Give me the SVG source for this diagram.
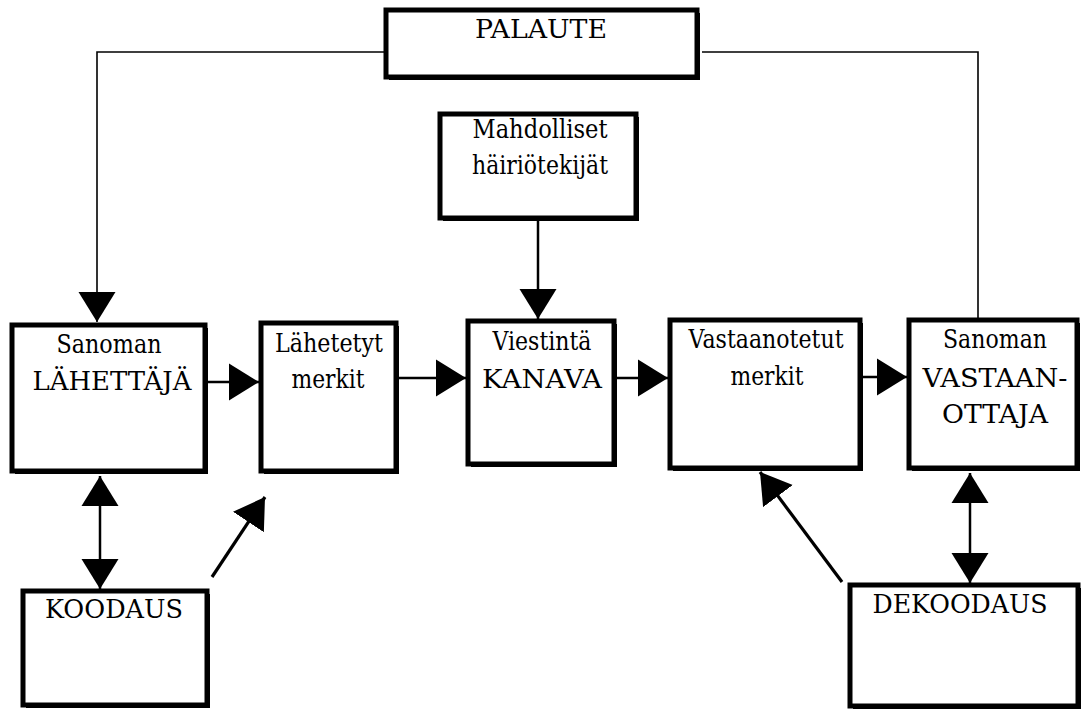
<svg xmlns="http://www.w3.org/2000/svg" width="1087" height="713" viewBox="0 0 1087 713">
<style>
.box{fill:#fff;stroke:#000;stroke-width:5}
.sh{fill:#000}
.t{font-family:"DejaVu Serif",serif;font-size:26px;fill:#000;text-anchor:middle}
.c{fill:none;stroke:#000;stroke-width:2.5}
.f{fill:none;stroke:#000;stroke-width:1.6}
</style>
<defs>
<marker id="ah" markerUnits="userSpaceOnUse" markerWidth="31" markerHeight="38" viewBox="0 0 31 38" refX="30" refY="19" orient="auto-start-reverse">
<path d="M0,0.5 L30,19 L0,37.5 z" fill="#000"/>
</marker>
</defs>
<g id="connectors">
<polyline class="f" points="384,52 97,52 97,322" marker-end="url(#ah)"/>
<polyline class="f" points="702,52 978,52 978,318"/>
<line class="c" x1="538" y1="221" x2="538" y2="319" marker-end="url(#ah)"/>
<line class="c" x1="208" y1="382" x2="259" y2="382" marker-end="url(#ah)"/>
<line class="c" x1="399" y1="378" x2="466" y2="378" marker-end="url(#ah)"/>
<line class="c" x1="617" y1="378" x2="668" y2="378" marker-end="url(#ah)"/>
<line class="c" x1="863" y1="377" x2="907" y2="377" marker-end="url(#ah)"/>
<line class="c" x1="100" y1="476" x2="100" y2="589" marker-start="url(#ah)" marker-end="url(#ah)"/>
<line class="c" x1="970" y1="473" x2="970" y2="583" marker-start="url(#ah)" marker-end="url(#ah)"/>
<line class="c" style="stroke-width:3.2" x1="212" y1="577" x2="265" y2="497" marker-end="url(#ah)"/>
<line class="c" style="stroke-width:3.2" x1="842" y1="582" x2="760" y2="472" marker-end="url(#ah)"/>
</g>
<g id="palaute">
<rect class="sh" x="389" y="13" width="311" height="67"/>
<rect class="box" x="386" y="10" width="311" height="67"/>
<text class="t" x="541" y="38" textLength="132" lengthAdjust="spacingAndGlyphs">PALAUTE</text>
</g>
<g id="hairio">
<rect class="sh" x="443" y="117" width="196" height="104"/>
<rect class="box" x="440" y="114" width="196" height="104"/>
<text class="t" x="540" y="138" textLength="135" lengthAdjust="spacingAndGlyphs">Mahdolliset</text>
<text class="t" x="540" y="174" textLength="136" lengthAdjust="spacingAndGlyphs">häiriötekijät</text>
</g>
<g id="lahettaja">
<rect class="sh" x="15" y="328" width="193" height="146"/>
<rect class="box" x="12" y="325" width="193" height="146"/>
<text class="t" x="109" y="353" textLength="105" lengthAdjust="spacingAndGlyphs">Sanoman</text>
<text class="t" x="112" y="390" textLength="159" lengthAdjust="spacingAndGlyphs">LÄHETTÄJÄ</text>
</g>
<g id="lahetetyt">
<rect class="sh" x="264" y="326" width="135" height="148"/>
<rect class="box" x="261" y="323" width="135" height="148"/>
<text class="t" x="329" y="352" textLength="108" lengthAdjust="spacingAndGlyphs">Lähetetyt</text>
<text class="t" x="328" y="388" textLength="73" lengthAdjust="spacingAndGlyphs">merkit</text>
</g>
<g id="kanava">
<rect class="sh" x="471" y="324" width="146" height="143"/>
<rect class="box" x="468" y="321" width="146" height="143"/>
<text class="t" x="542" y="350" textLength="99" lengthAdjust="spacingAndGlyphs">Viestintä</text>
<text class="t" x="542" y="388" textLength="120" lengthAdjust="spacingAndGlyphs">KANAVA</text>
</g>
<g id="vastaanotetut">
<rect class="sh" x="673" y="323" width="190" height="148"/>
<rect class="box" x="670" y="320" width="190" height="148"/>
<text class="t" x="766" y="348" textLength="155" lengthAdjust="spacingAndGlyphs">Vastaanotetut</text>
<text class="t" x="767" y="385" textLength="73" lengthAdjust="spacingAndGlyphs">merkit</text>
</g>
<g id="vastaanottaja">
<rect class="sh" x="912" y="323" width="168" height="148"/>
<rect class="box" x="909" y="320" width="168" height="148"/>
<text class="t" x="995" y="348" textLength="104" lengthAdjust="spacingAndGlyphs">Sanoman</text>
<text class="t" x="995" y="387" textLength="145" lengthAdjust="spacingAndGlyphs">VASTAAN-</text>
<text class="t" x="995" y="423" textLength="106" lengthAdjust="spacingAndGlyphs">OTTAJA</text>
</g>
<g id="koodaus">
<rect class="sh" x="26" y="594" width="184" height="114"/>
<rect class="box" x="23" y="591" width="184" height="114"/>
<text class="t" x="114" y="618" textLength="138" lengthAdjust="spacingAndGlyphs">KOODAUS</text>
</g>
<g id="dekoodaus">
<rect class="sh" x="853" y="588" width="228" height="121"/>
<rect class="box" x="850" y="585" width="228" height="121"/>
<text class="t" x="960" y="613" textLength="175" lengthAdjust="spacingAndGlyphs">DEKOODAUS</text>
</g>
</svg>
